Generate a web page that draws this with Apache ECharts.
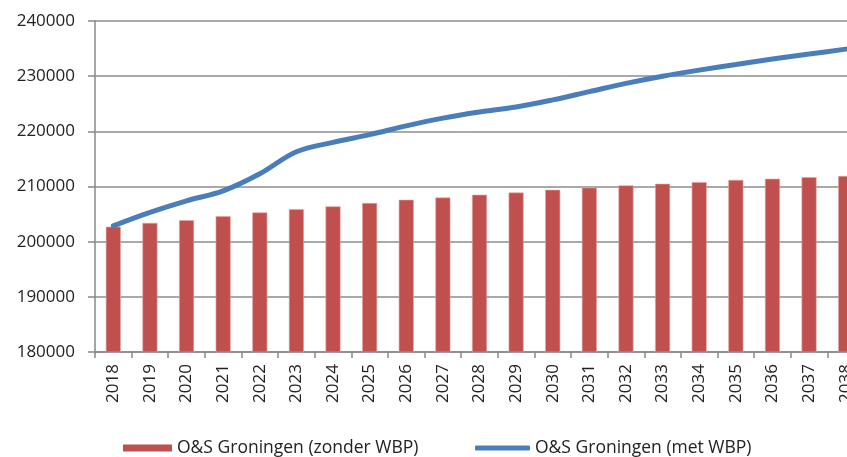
<!DOCTYPE html>
<html>
<head>
<meta charset="utf-8">
<script src="https://cdn.jsdelivr.net/npm/echarts@6/dist/echarts.min.js"></script>
<style>html,body{margin:0;padding:0;background:#fff}#c{width:847px;height:457px}</style>
</head>
<body>
<div id="c"></div>
<script>
const categories = ['2018','2019','2020','2021','2022','2023','2024','2025','2026','2027','2028','2029','2030','2031','2032','2033','2034','2035','2036','2037','2038'];
const zonderWBP = [202700,203400,203900,204600,205300,205900,206400,207000,207600,208000,208500,208900,209400,209800,210200,210500,210800,211200,211400,211700,211900];
const metWBP = [202850,205300,207400,209200,212300,216300,218000,219400,221000,222400,223500,224400,225700,227200,228700,230000,231100,232100,233100,234000,234900];
const seriesNames = ['O&S Groningen (zonder WBP)','O&S Groningen (met WBP)'];

const font = '"Open Sans", "DejaVu Sans", sans-serif';
const chart = echarts.init(document.getElementById('c'), null, {renderer:'canvas'});
chart.setOption({
  animation: false,
  backgroundColor: '#fff',
  grid: {left: 95, top: 21, bottom: 105, right: -17, containLabel: false, outerBoundsMode: 'none'},
  legend: [
    {data:[{name: seriesNames[0], icon:'rect', itemStyle:{color:'#C0504D', borderWidth:0}}], left: 118, top: 434, itemWidth: 49, itemHeight: 7, itemGap: 6,
     textStyle:{fontFamily: font, fontSize: 17.5, color:'#222'}},
    {data:[{name: seriesNames[1], icon:'roundRect', itemStyle:{color:'#4A7EBB', borderWidth:0}}], left: 470, top: 434, itemWidth: 55, itemHeight: 5, itemGap: 4,
     textStyle:{fontFamily: font, fontSize: 17.5, color:'#222'}}
  ],
  xAxis: {
    type: 'category', data: categories, boundaryGap: true,
    axisLine: {lineStyle: {color: '#888', width: 1.5}},
    axisTick: {show: true, alignWithLabel: false, length: 6, lineStyle: {color:'#888', width: 1.5}},
    axisLabel: {rotate: 90, interval: 0, fontFamily: font, fontSize: 17, color: '#222', margin: 12}
  },
  yAxis: {
    type: 'value', min: 180000, max: 240000, interval: 10000,
    axisLine: {show: true, lineStyle: {color: '#888', width: 1.5}},
    axisTick: {show: true, inside: false, length: 7, lineStyle: {color:'#888', width: 1.5}},
    splitLine: {lineStyle: {color: '#8c8c8c', width: 1.5}},
    axisLabel: {fontFamily: font, fontSize: 17, color: '#222', margin: 20, formatter: v => String(v)}
  },
  series: [
    {name: seriesNames[0], type: 'bar', data: zonderWBP, barWidth: 15,
     itemStyle: {color: '#C0504D', borderColor: '#E2A6A4', borderWidth: 0.6}},
    {name: seriesNames[1], type: 'line', data: metWBP, smooth: 0.35, symbol: 'none',
     lineStyle: {color: '#4A7EBB', width: 5, cap: 'round'}, itemStyle:{color:'#4A7EBB'}}
  ]
});
</script>
</body>
</html>
